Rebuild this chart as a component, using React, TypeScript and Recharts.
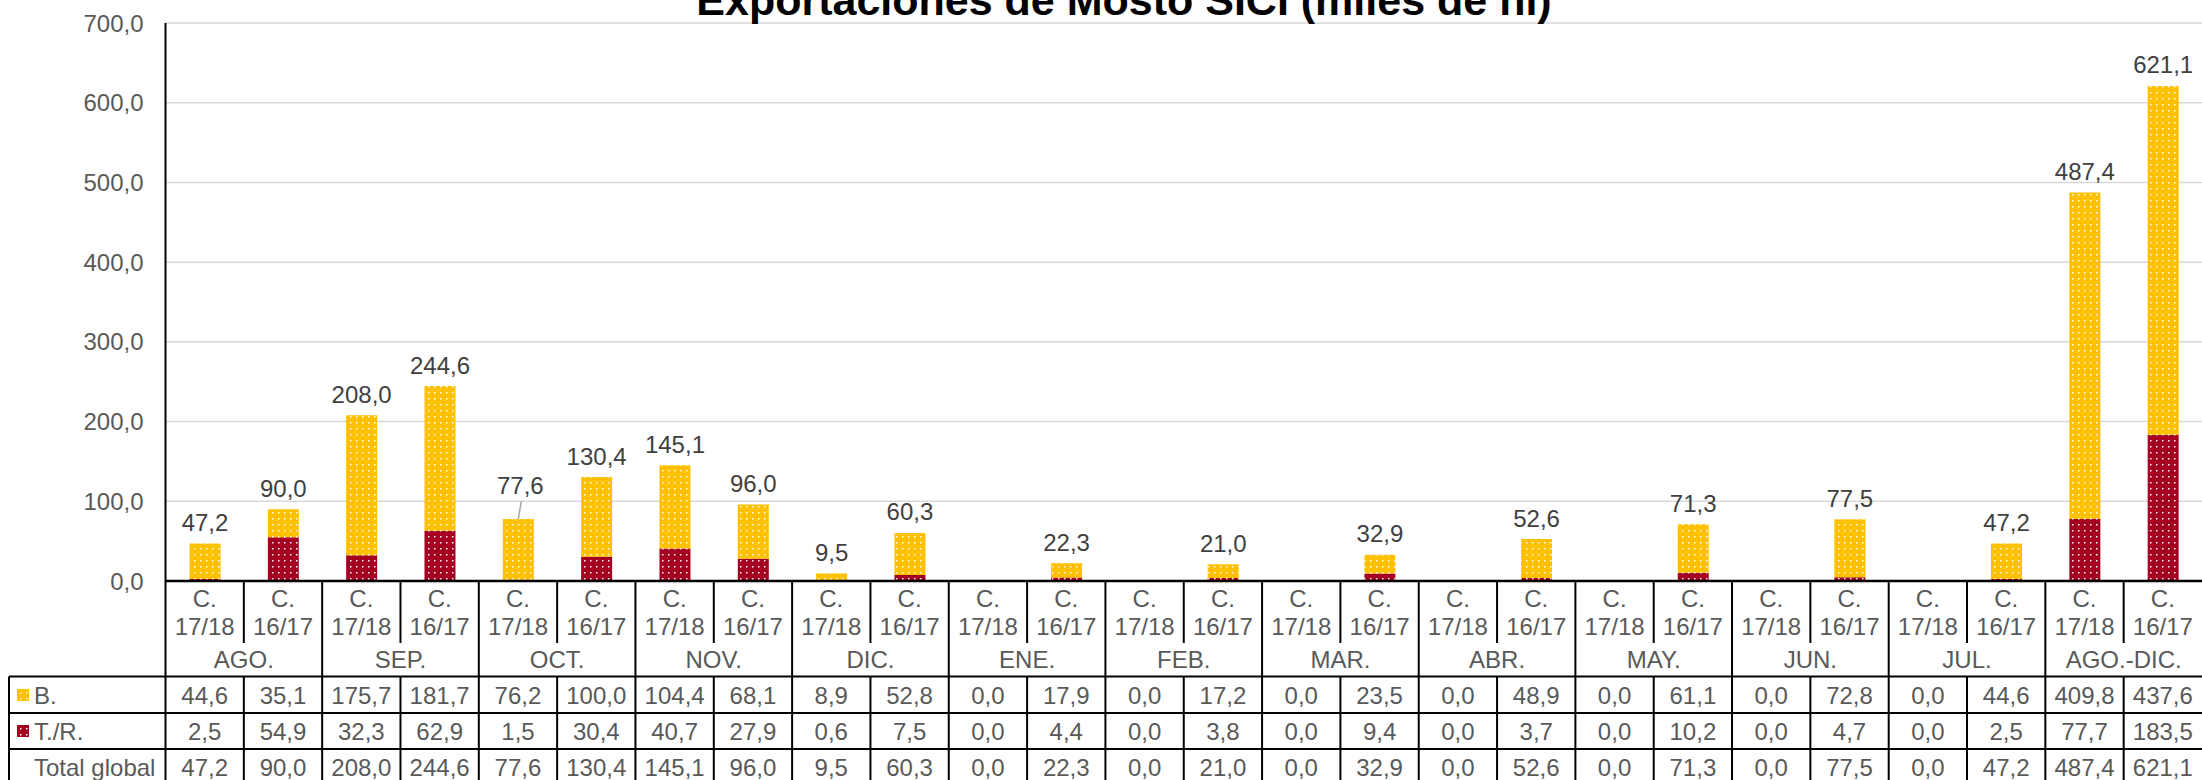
import React from 'react';
import { BarChart, Bar, XAxis, YAxis, CartesianGrid, LabelList } from 'recharts';

const months = ['AGO.', 'SEP.', 'OCT.', 'NOV.', 'DIC.', 'ENE.', 'FEB.', 'MAR.', 'ABR.', 'MAY.', 'JUN.', 'JUL.', 'AGO.-DIC.'];
const campaigns = ['17/18', '16/17'];
const bValues = [44.6, 35.1, 175.7, 181.7, 76.2, 100.0, 104.4, 68.1, 8.9, 52.8, 0.0, 17.9, 0.0, 17.2, 0.0, 23.5, 0.0, 48.9, 0.0, 61.1, 0.0, 72.8, 0.0, 44.6, 409.8, 437.6];
const trValues = [2.5, 54.9, 32.3, 62.9, 1.5, 30.4, 40.7, 27.9, 0.6, 7.5, 0.0, 4.4, 0.0, 3.8, 0.0, 9.4, 0.0, 3.7, 0.0, 10.2, 0.0, 4.7, 0.0, 2.5, 77.7, 183.5];
const totalValues = [47.2, 90.0, 208.0, 244.6, 77.6, 130.4, 145.1, 96.0, 9.5, 60.3, 0.0, 22.3, 0.0, 21.0, 0.0, 32.9, 0.0, 52.6, 0.0, 71.3, 0.0, 77.5, 0.0, 47.2, 487.4, 621.1];
const yTicks = [0, 100, 200, 300, 400, 500, 600, 700];
const seriesNames = ['B.', 'T./R.'];
const titleText = 'Exportaciones de Mosto SICI (miles de hl)';

const data = bValues.map((b, i) => ({
  key: `${months[Math.floor(i / 2)]}|${campaigns[i % 2]}`,
  month: months[Math.floor(i / 2)],
  campaign: campaigns[i % 2],
  b,
  tr: trValues[i],
  total: totalValues[i],
}));

const W = 2202;
const H = 790;
const PLOT_LEFT = 165.5;
const PLOT_TOP = 23;
const XAXIS_H = 209;
const BW = (W - PLOT_LEFT) / data.length;
const FONT = '"Liberation Sans", Arial, sans-serif';
const FS = 24;
const GRAY = '#595959';
const YELLOW = '#FFC000';
const RED = '#A50021';
const LINE = '#000';

const fmt = (v: number) => v.toFixed(1).replace('.', ',');

const TableTick = (props: any) => {
  const { x, y, payload } = props;
  const i = data.findIndex((d) => d.key === payload.value);
  if (i < 0) return null;
  const d = data[i];
  const left = x - BW / 2;
  const right = x + BW / 2;
  const even = i % 2 === 0;
  const sepEnd = y + 62;
  const monthBottom = y + 95.5;
  const bBottom = y + 132;
  const trBottom = y + 168;
  const bottom = y + 215;
  const txt = (tx: number, ty: number, s: string, anchor: string = 'middle') => (
    <text x={tx} y={ty} textAnchor={anchor} dominantBaseline="central" fill={GRAY} fontSize={FS} fontFamily={FONT}>
      {s}
    </text>
  );
  return (
    <g>
      {even ? (
        <line x1={left} y1={y} x2={left} y2={bottom} stroke={LINE} strokeWidth={2} />
      ) : (
        <>
          <line x1={left} y1={y} x2={left} y2={sepEnd} stroke={LINE} strokeWidth={2} />
          <line x1={left} y1={monthBottom} x2={left} y2={bottom} stroke={LINE} strokeWidth={2} />
        </>
      )}
      <line x1={left} y1={monthBottom} x2={right} y2={monthBottom} stroke={LINE} strokeWidth={2} />
      <line x1={left} y1={bBottom} x2={right} y2={bBottom} stroke={LINE} strokeWidth={2} />
      <line x1={left} y1={trBottom} x2={right} y2={trBottom} stroke={LINE} strokeWidth={2} />
      {txt(x, y + 17, 'C.')}
      {txt(x, y + 45, d.campaign)}
      {even ? txt(right, y + 78, d.month) : null}
      {txt(x, y + 114, fmt(d.b))}
      {txt(x, y + 150, fmt(d.tr))}
      {txt(x, y + 186, fmt(d.total))}
      {i === 0 ? (
        <g>
          <line x1={9} y1={monthBottom} x2={left} y2={monthBottom} stroke={LINE} strokeWidth={2} />
          <line x1={9} y1={bBottom} x2={left} y2={bBottom} stroke={LINE} strokeWidth={2} />
          <line x1={9} y1={trBottom} x2={left} y2={trBottom} stroke={LINE} strokeWidth={2} />
          <line x1={9} y1={monthBottom} x2={9} y2={bottom} stroke={LINE} strokeWidth={2} />
          <rect x={17} y={y + 108} width={12} height={12} fill="url(#dotsY)" />
          <rect x={17} y={y + 144} width={12} height={12} fill="url(#dotsR)" />
          {txt(34, y + 114, seriesNames[0], 'start')}
          {txt(34, y + 150, seriesNames[1], 'start')}
          {txt(34, y + 186, 'Total global', 'start')}
        </g>
      ) : null}
    </g>
  );
};

const TotalLabel = (props: any) => {
  const vb = props.viewBox || {};
  const x = props.x ?? vb.x;
  const y = props.y ?? vb.y;
  const width = props.width ?? vb.width;
  const value = Number(props.value);
  const index = props.index;
  if (!value) return null;
  const cx = x + width / 2;
  const style = { fill: '#404040', fontSize: FS, fontFamily: FONT };
  if (index === 4) {
    return (
      <g>
        <line x1={cx + 3} y1={y - 18} x2={cx} y2={y} stroke="#A6A6A6" strokeWidth={1.5} />
        <text x={cx + 2} y={y - 34} textAnchor="middle" dominantBaseline="central" {...style}>
          {fmt(value)}
        </text>
      </g>
    );
  }
  return (
    <text x={cx} y={y - 21} textAnchor="middle" dominantBaseline="central" {...style}>
      {fmt(value)}
    </text>
  );
};

export default function App() {
  return (
    <div style={{ position: 'absolute', left: 0, top: 0, width: W, height: 780, overflow: 'hidden', background: '#fff' }}>
      <BarChart width={W} height={H} data={data} margin={{ top: PLOT_TOP, right: 0, bottom: 0, left: 0 }} barSize={31}>
        <defs>
          <pattern id="dotsY" width="6" height="6" patternUnits="userSpaceOnUse">
            <rect width="6" height="6" fill={YELLOW} />
            <rect x="2" y="2" width="1.5" height="1.5" fill="#fff" />
          </pattern>
          <pattern id="dotsR" width="6" height="6" patternUnits="userSpaceOnUse">
            <rect width="6" height="6" fill={RED} />
            <rect x="2" y="2" width="1.5" height="1.5" fill="#fff" />
          </pattern>
        </defs>
        <CartesianGrid vertical={false} stroke="#D9D9D9" strokeWidth={1.5} />
        <YAxis
          domain={[0, 700]}
          ticks={yTicks}
          interval={0}
          tickFormatter={fmt}
          width={PLOT_LEFT}
          axisLine={{ stroke: LINE, strokeWidth: 2 }}
          tickLine={false}
          tickSize={0}
          tickMargin={22}
          tick={{ fill: GRAY, fontSize: FS, fontFamily: FONT }}
        />
        <XAxis
          dataKey="key"
          height={XAXIS_H}
          interval={0}
          tickLine={false}
          tickSize={0}
          tickMargin={0}
          axisLine={{ stroke: LINE, strokeWidth: 2.5 }}
          tick={<TableTick />}
        />
        <Bar dataKey="tr" stackId="a" fill="url(#dotsR)" isAnimationActive={false} />
        <Bar dataKey="b" stackId="a" fill="url(#dotsY)" isAnimationActive={false}>
          <LabelList dataKey="total" content={<TotalLabel />} />
        </Bar>
      </BarChart>
      <svg width={W} height={40} style={{ position: 'absolute', left: 0, top: 0, pointerEvents: 'none' }}>
        <text x={1124} y={15} textAnchor="middle" fontSize={43} fontWeight="bold" fontFamily={FONT} fill="#000">
          {titleText}
        </text>
      </svg>
    </div>
  );
}
